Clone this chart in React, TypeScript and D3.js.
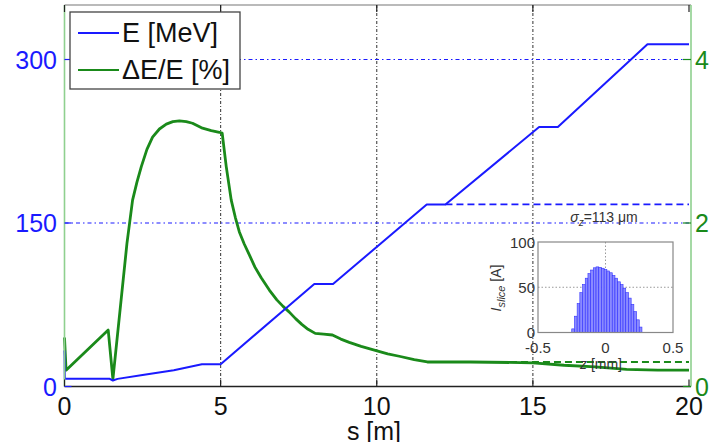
import React from 'react';
import * as d3 from 'd3';

// Main plot data
const sEnergy = [0, 0.01, 1.45, 1.55, 1.7, 2.5, 3.5, 4.4, 5.0, 8.0, 8.6, 11.6, 12.2, 15.2, 15.8, 18.67, 20];
const energy = [33, 7, 7, 5.5, 7, 10.5, 15, 20.5, 20.5, 94, 94, 167, 167, 238, 238, 314, 314];

const sSpread = [0, 0.05, 1.4, 1.55, 1.77, 2.0, 2.18, 2.32, 2.46, 2.64, 2.82, 3.04, 3.26, 3.47, 3.68, 3.9, 4.1, 4.42, 4.7, 4.96, 5.05, 5.18, 5.34, 5.47, 5.6, 5.76, 5.92, 6.1, 6.3, 6.56, 6.8, 7.0, 7.2, 7.4, 7.6, 7.8, 8.03, 8.3, 8.58, 8.85, 9.12, 9.5, 9.98, 10.35, 10.72, 11.2, 11.62, 13, 15, 16, 17, 18, 19, 20];
const spread = [0.6, 0.2, 0.69, 0.09, 0.9, 1.75, 2.28, 2.5, 2.69, 2.9, 3.05, 3.15, 3.21, 3.24, 3.25, 3.24, 3.22, 3.16, 3.13, 3.11, 3.1, 2.69, 2.28, 2.07, 1.89, 1.74, 1.61, 1.46, 1.33, 1.18, 1.06, 0.98, 0.91, 0.83, 0.76, 0.7, 0.65, 0.64, 0.63, 0.58, 0.54, 0.49, 0.44, 0.4, 0.37, 0.33, 0.3, 0.3, 0.29, 0.26, 0.24, 0.21, 0.2, 0.2];

const energyDashedS = [12.2, 20];
const energyDashedV = 167;
const spreadDashedS = [11.8, 20];
const spreadDashedV = 0.3;

const xTicks = [0, 5, 10, 15, 20];
const gridX = [5, 10, 15];
const leftTicks = [0, 150, 300];
const rightTicks = [0, 2, 4];

// Inset data
const zBins = [-0.24, -0.22, -0.2, -0.18, -0.16, -0.14, -0.12, -0.1, -0.08, -0.06, -0.04, -0.02, 0, 0.02, 0.04, 0.06, 0.08, 0.1, 0.12, 0.14, 0.16, 0.18, 0.2, 0.22, 0.24, 0.26];
const current = [4, 18, 32, 44, 53, 60, 65, 69, 71.5, 72.5, 72, 71, 69.5, 68, 66, 63, 60, 56, 53, 49, 44, 38, 31, 23, 14, 6];
const zBinWidth = 0.02;
const insetXTicks = [-0.5, 0, 0.5];
const insetYTicks = [0, 50, 100];

const legendLabels = ['E [MeV]', 'ΔE/E [%]'];

const FONT = 'Liberation Sans, Arial, Helvetica, sans-serif';
const BLUE = '#1a1aff';
const GREEN = '#1a8a1a';
const AXGREEN = '#8fd08f';

export default function App() {
  const left = 64.5, right = 689, top = 5, bottom = 386.5;
  const x = d3.scaleLinear().domain([0, 20]).range([left, right]);
  const yL = d3.scaleLinear().domain([0, 350]).range([bottom, top]);
  const yR = d3.scaleLinear().domain([0, 350 / 75]).range([bottom, top]);

  const lineE = d3.line<number>().x((_, i) => x(sEnergy[i])).y((d) => yL(d));
  const lineS = d3.line<number>().x((_, i) => x(sSpread[i])).y((d) => yR(d));

  // inset
  const iL = 538, iR = 673, iT = 242, iB = 332.5;
  const zx = d3.scaleLinear().domain([-0.5, 0.5]).range([iL, iR]);
  const iy = d3.scaleLinear().domain([0, 100]).range([iB, iT]);

  return (
    <svg width={713} height={442} style={{ position: 'absolute', left: 0, top: 0, background: '#fff' }} fontFamily={FONT}>
      <rect x={0} y={0} width={713} height={442} fill="#fff" />
      {/* vertical grid */}
      {gridX.map((g) => (
        <line key={g} x1={x(g)} x2={x(g)} y1={top} y2={bottom} stroke="#444" strokeWidth={1.1} strokeDasharray="3,2,1,2" />
      ))}
      {/* horizontal blue grid */}
      {leftTicks.filter((t) => t > 0).map((t) => (
        <line key={t} x1={left} x2={right} y1={yL(t)} y2={yL(t)} stroke={BLUE} strokeWidth={1.2} strokeDasharray="4,3,1.5,3" />
      ))}
      {/* dashed reference lines */}
      <line x1={x(energyDashedS[0])} x2={x(energyDashedS[1])} y1={yL(energyDashedV)} y2={yL(energyDashedV)} stroke={BLUE} strokeWidth={1.8} strokeDasharray="7,4" />
      <line x1={x(spreadDashedS[0])} x2={x(spreadDashedS[1])} y1={yR(spreadDashedV)} y2={yR(spreadDashedV)} stroke={GREEN} strokeWidth={1.8} strokeDasharray="7,4" />
      {/* curves */}
      <path d={lineS(spread) || ''} fill="none" stroke={GREEN} strokeWidth={2.8} strokeLinejoin="round" />
      <path d={lineE(energy) || ''} fill="none" stroke={BLUE} strokeWidth={2} strokeLinejoin="round" />

      {/* axes frame */}
      <line x1={left} x2={right + 2} y1={top} y2={top} stroke="#777" strokeWidth={1.2} />
      <line x1={left} x2={right + 2} y1={bottom} y2={bottom} stroke="#222" strokeWidth={1.4} />
      <line x1={left} x2={left} y1={top} y2={bottom} stroke={AXGREEN} strokeWidth={1.6} />
      <line x1={right + 2} x2={right + 2} y1={top} y2={bottom} stroke={AXGREEN} strokeWidth={1.6} />
      {xTicks.map((t) => (
        <g key={t}>
          <line x1={x(t)} x2={x(t)} y1={bottom} y2={bottom - 7} stroke="#222" strokeWidth={1.2} />
          <line x1={x(t)} x2={x(t)} y1={top} y2={top + 7} stroke="#222" strokeWidth={1.2} />
          <text x={x(t)} y={406} fontSize={25} textAnchor="middle" dominantBaseline="central" fill="#111">{t}</text>
        </g>
      ))}
      {leftTicks.map((t) => (
        <g key={t}>
          <line x1={left} x2={left + 7} y1={yL(t)} y2={yL(t)} stroke={BLUE} strokeWidth={1.2} />
          <text x={57} y={yL(t)} fontSize={25} textAnchor="end" dominantBaseline="central" fill={BLUE}>{t}</text>
        </g>
      ))}
      {rightTicks.map((t) => (
        <g key={t}>
          <line x1={right + 2} x2={right - 6} y1={yR(t)} y2={yR(t)} stroke={GREEN} strokeWidth={1.2} />
          <text x={695} y={yR(t)} fontSize={25} textAnchor="start" dominantBaseline="central" fill={GREEN}>{t}</text>
        </g>
      ))}
      <text x={374} y={440} fontSize={25} textAnchor="middle" fill="#111">s [m]</text>

      {/* legend */}
      <rect x={70} y={12} width={170} height={77} fill="#fff" stroke="#444" strokeWidth={1.3} />
      {legendLabels.map((lab, i) => (
        <g key={lab}>
          <line x1={78} x2={119} y1={33 + i * 37} y2={33 + i * 37} stroke={i === 0 ? BLUE : GREEN} strokeWidth={2} />
          <text x={122} y={33 + i * 37} fontSize={27} dominantBaseline="central" fill="#111">{lab}</text>
        </g>
      ))}

      {/* inset */}
      <text x={604} y={222} fontSize={14} textAnchor="middle" fill="#333">
        <tspan fontStyle="italic">σ</tspan>
        <tspan fontStyle="italic" fontSize={10} dy={4}>z</tspan>
        <tspan dy={-4}>=113 μm</tspan>
      </text>
      <rect x={iL} y={iT} width={iR - iL} height={iB - iT} fill="#fff" />
      <line x1={zx(0)} x2={zx(0)} y1={iT} y2={iB} stroke="#999" strokeWidth={1} strokeDasharray="1.5,2" />
      <line x1={iL} x2={iR} y1={iy(50)} y2={iy(50)} stroke="#999" strokeWidth={1} strokeDasharray="1.5,2" />
      {current.map((c, i) => (
        <rect key={i} x={zx(zBins[i] - zBinWidth / 2)} y={iy(c)} width={zx(zBinWidth) - zx(0)} height={iB - iy(c)} fill="#8a8aff" stroke="#3030ff" strokeWidth={0.6} />
      ))}
      <rect x={iL} y={iT} width={iR - iL} height={iB - iT} fill="none" stroke="#888" strokeWidth={1.2} />
      {insetYTicks.map((t) => (
        <text key={t} x={535} y={iy(t)} fontSize={15} textAnchor="end" dominantBaseline="central" fill="#333">{t}</text>
      ))}
      {insetXTicks.map((t) => (
        <text key={t} x={zx(t)} y={347} fontSize={15} textAnchor="middle" dominantBaseline="central" fill="#333">{t}</text>
      ))}
      <text x={601} y={369} fontSize={14} textAnchor="middle" fill="#333">
        <tspan fontStyle="italic">z</tspan> [mm]
      </text>
      <text transform="translate(501,288) rotate(-90)" fontSize={14} textAnchor="middle" fill="#333">
        <tspan fontStyle="italic">I</tspan>
        <tspan fontStyle="italic" fontSize={11} dy={4}>slice</tspan>
        <tspan dy={-4}> [A]</tspan>
      </text>
    </svg>
  );
}
